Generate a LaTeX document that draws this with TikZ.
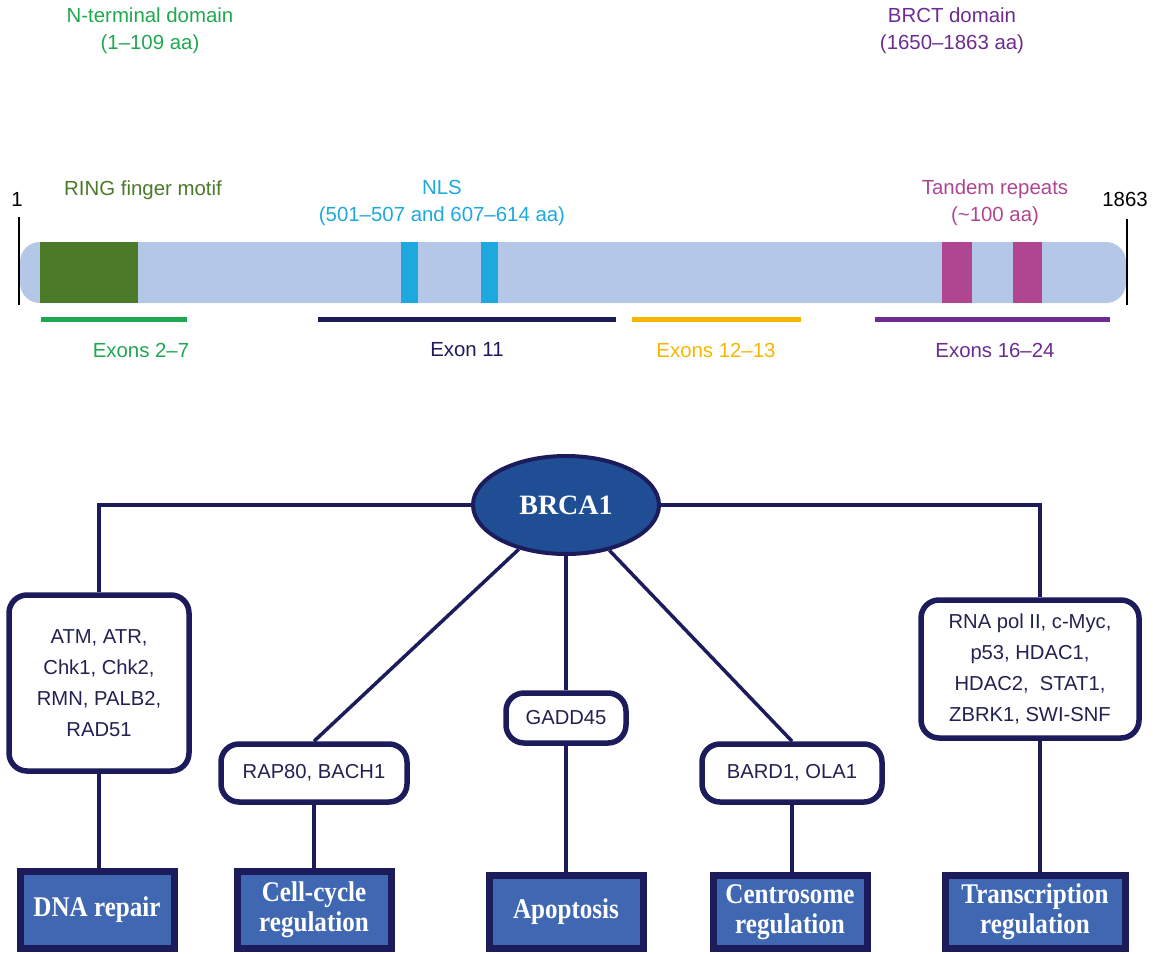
\documentclass[tikz,border=0pt]{standalone}
\usepackage{fontspec}
\setmainfont{Liberation Sans}
\newfontfamily\boxfont{Liberation Serif}
\newfontfamily\funcfont[FakeStretch=0.88]{Liberation Serif}
\usetikzlibrary{shapes}
\definecolor{navy}{RGB}{28,28,92}
\definecolor{textnavy}{RGB}{34,34,82}
\definecolor{barblue}{RGB}{180,199,231}
\definecolor{ringgreen}{RGB}{75,122,40}
\definecolor{ntgreen}{RGB}{30,168,80}
\definecolor{nlscyan}{RGB}{30,168,224}
\definecolor{tandem}{RGB}{176,70,143}
\definecolor{brctpurple}{RGB}{108,44,144}
\definecolor{exonyellow}{RGB}{247,183,0}
\definecolor{corefill}{RGB}{31,78,148}
\definecolor{funcblue}{RGB}{64,104,178}
\tikzset{
        textnode/.style={align=center,inner sep=0pt},
        % Labels round the protein bar
        node_label/.style={textnode, font=\fontsize{20.4}{27}\selectfont},
        % BRCA1 in the middle
        node_core/.style={textnode, ellipse, draw=navy, line width=4pt, fill=corefill, text=white, minimum width=186, minimum height=98, font=\boxfont\bfseries\fontsize{28}{30}\selectfont},
        % Interacting proteins
        node_partner/.style={textnode, rectangle, rounded corners=18pt, draw=navy, line width=5.5pt, fill=white, text=textnavy, font=\fontsize{20.2}{31}\selectfont},
        % Cellular functions
        node_function/.style={textnode, rectangle, draw=navy, line width=7pt, fill=funcblue, text=white, minimum width=154, minimum height=77, font=\funcfont\bfseries\fontsize{28.5}{30}\selectfont},
        % Exon segments
        exon_line/.style={line width=5pt},
        link/.style={draw=navy, line width=3.5pt}
}
\begin{document}
\begin{tikzpicture}[x=1pt, y=-1pt]
    \useasboundingbox (0,0) rectangle (1153,953);
    % domains
    \node[node_label, text=ntgreen] (nterm) at (150,31) {N-terminal domain\\(1–109 aa)};
    \node[node_label, text=brctpurple] (brct) at (952,31) {BRCT domain\\(1650–1863 aa)};
    \node[node_label, text=ringgreen] (ring) at (143,190) {RING finger motif};
    \node[node_label, text=nlscyan] (nls) at (442,203) {NLS\\(501–507 and 607–614 aa)};
    \node[node_label, text=tandem] (rep) at (995,203) {Tandem repeats\\(\textasciitilde100 aa)};
    \node[node_label] (first) at (17,199) {1};
    \node[node_label] (last) at (1125,199) {1863};
    % protein bar
    \fill[barblue, rounded corners=20pt] (20,242) rectangle (1126,303);
    \fill[ringgreen] (40,242) rectangle (138,303);
    \fill[nlscyan] (401,242) rectangle (418,303);
    \fill[nlscyan] (481,242) rectangle (498,303);
    \fill[tandem] (942,242) rectangle (972,303);
    \fill[tandem] (1013,242) rectangle (1042,303);
    \draw[line width=2pt] (19,217) -- (19,305);
    \draw[line width=2pt] (1127,219) -- (1127,305);
    % exons
    \draw[exon_line, ntgreen] (41,319) -- (187,319);
    \draw[exon_line, navy] (318,319) -- (616,319);
    \draw[exon_line, exonyellow] (632,319) -- (801,319);
    \draw[exon_line, brctpurple] (875,319) -- (1110,319);
    \node[node_label, text=ntgreen] (ex1) at (141,350) {Exons 2–7};
    \node[node_label, text=navy] (ex2) at (467,350) {Exon 11};
    \node[node_label, text=exonyellow] (ex3) at (716,350) {Exons 12–13};
    \node[node_label, text=brctpurple] (ex4) at (995,350) {Exons 16–24};
    % interaction map
    \node[node_core] (brca) at (566,505) {BRCA1};
    \node[node_partner, minimum width=180, minimum height=176] (dnaprot) at (99,683) {ATM, ATR,\\Chk1, Chk2,\\RMN, PALB2,\\RAD51};
    \node[node_partner, minimum width=186, minimum height=58] (rap) at (314,773) {RAP80, BACH1};
    \node[node_partner, minimum width=120, minimum height=50] (gadd) at (566,718) {GADD45};
    \node[node_partner, minimum width=180, minimum height=58] (bard) at (792,773) {BARD1, OLA1};
    \node[node_partner, minimum width=218, minimum height=138] (tranprot) at (1030,669) {RNA pol II, c-Myc,\\p53, HDAC1,\\HDAC2, \ STAT1,\\ZBRK1, SWI-SNF};
    \coordinate (trline) at (1040,0);
    % functions
    \node[node_function] (dnarep) at (97,910) {DNA repair};
    \node[node_function] (cellcyc) at (314,910) {Cell-cycle\\regulation};
    \node[node_function, minimum height=73] (apop) at (566,912) {Apoptosis};
    \node[node_function, minimum height=73] (centro) at (790,912) {Centrosome\\regulation};
    \node[node_function, minimum height=73, minimum width=180] (transc) at (1035,912) {Transcription\\regulation};
    % links
    \draw[link] (brca.west) -| (dnaprot.north);
    \draw[link] (brca.east) -| (trline |- tranprot.north);
    \draw[link] (brca) -- (rap.north);
    \draw[link] (brca) -- (gadd);
    \draw[link] (brca) -- (bard.north);
    \foreach \a/\b in {dnaprot/dnarep, rap/cellcyc, gadd/apop, bard/centro}
        \draw[link] (\a.south) -- (\a.south |- \b.north);
    \draw[link] (trline |- tranprot.south) -- (trline |- transc.north);
\end{tikzpicture}
\end{document}
